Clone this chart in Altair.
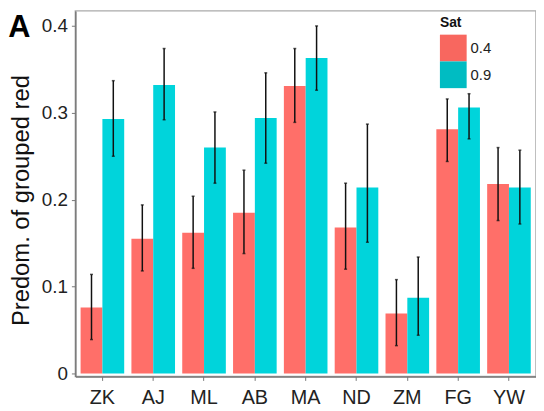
import altair as alt
import pandas as pd

cats = ["ZK", "AJ", "ML", "AB", "MA", "ND", "ZM", "FG", "YW"]
sat_levels = ["0.4", "0.9"]
mean_04 = [0.076, 0.155, 0.162, 0.185, 0.331, 0.168, 0.069, 0.281, 0.218]
lo_04 = [0.039, 0.118, 0.121, 0.138, 0.289, 0.120, 0.032, 0.244, 0.176]
hi_04 = [0.114, 0.194, 0.204, 0.234, 0.374, 0.219, 0.108, 0.316, 0.260]
mean_09 = [0.293, 0.332, 0.260, 0.294, 0.363, 0.214, 0.087, 0.306, 0.214]
lo_09 = [0.250, 0.292, 0.219, 0.242, 0.326, 0.151, 0.044, 0.270, 0.172]
hi_09 = [0.337, 0.374, 0.301, 0.346, 0.400, 0.287, 0.134, 0.322, 0.257]
y_ticks = [0, 0.1, 0.2, 0.3, 0.4]

rows = []
for i, c in enumerate(cats):
    rows.append({"cat": c, "Sat": "0.4", "m": mean_04[i], "lo": lo_04[i], "hi": hi_04[i]})
    rows.append({"cat": c, "Sat": "0.9", "m": mean_09[i], "lo": lo_09[i], "hi": hi_09[i]})
df = pd.DataFrame(rows)

FONT = "Liberation Sans"
bar_colors = ["#FF6F69", "#00D4DB"]
legend_colors = ["#F8675F", "#00BCC2"]

x_enc = alt.X("cat:N", sort=cats,
              scale=alt.Scale(paddingInner=0.142, paddingOuter=0.103),
              axis=alt.Axis(title=None, labelAngle=0, labelFontSize=20, labelFont=FONT,
                            labelColor="#222222", tickSize=4, tickColor="#777777",
                            domainColor="#777777", domainWidth=1.5, labelPadding=7))
xo_enc = alt.XOffset("Sat:N", sort=sat_levels, scale=alt.Scale(paddingInner=0, paddingOuter=0))
y_scale = alt.Scale(domain=[-0.00342, 0.41733], nice=False, zero=False)
y_axis = alt.Axis(values=y_ticks, grid=False, labelFontSize=19, labelFont=FONT,
                  labelColor="#222222", tickSize=4, tickColor="#777777",
                  domainColor="#777777", domainWidth=1.5, labelPadding=4,
                  labelExpr="datum.value == 0 ? '0' : format(datum.value, '.1f')",
                  title="Predom. of grouped red", titleFont=FONT, titleFontSize=24,
                  titleFontWeight="normal", titleColor="#111111",
                  titleX=-42, titleY=191)

base = alt.Chart(df)

bars = base.mark_bar().encode(
    x=x_enc, xOffset=xo_enc,
    y=alt.Y("m:Q", scale=y_scale, axis=y_axis),
    color=alt.Color("Sat:N", sort=sat_levels,
                    scale=alt.Scale(domain=sat_levels, range=bar_colors), legend=None),
)

legend_layer = base.mark_square(opacity=0).encode(
    x=alt.X("cat:N", sort=cats), xOffset=xo_enc,
    y=alt.Y("m:Q"),
    fill=alt.Fill("Sat:N", sort=sat_levels,
                  scale=alt.Scale(domain=sat_levels, range=legend_colors),
                  legend=alt.Legend(title="Sat", orient="none", legendX=368, legendY=5,
                                    titleFont=FONT, titleFontSize=14, titleFontWeight="bold",
                                    titleColor="#111111", titlePadding=5,
                                    labelFont=FONT, labelFontSize=15, labelColor="#222222",
                                    labelOffset=4, symbolType="square", symbolSize=729,
                                    symbolOpacity=1, symbolStrokeWidth=0, rowPadding=0)),
)

rules = base.mark_rule(color="#111111", strokeWidth=1.5).encode(
    x=alt.X("cat:N", sort=cats), xOffset=xo_enc,
    y=alt.Y("lo:Q"), y2="hi:Q",
)
caps_lo = base.mark_tick(color="#111111", size=3, thickness=1.5).encode(
    x=alt.X("cat:N", sort=cats), xOffset=xo_enc, y=alt.Y("lo:Q"))
caps_hi = base.mark_tick(color="#111111", size=3, thickness=1.5).encode(
    x=alt.X("cat:N", sort=cats), xOffset=xo_enc, y=alt.Y("hi:Q"))

label_a = alt.Chart(pd.DataFrame({"t": ["A"]})).mark_text(
    font=FONT, fontSize=31, fontWeight="bold", color="#000000",
    align="center", baseline="alphabetic").encode(
    text="t:N", x=alt.value(-56.5), y=alt.value(26))

chart = alt.layer(bars, legend_layer, rules, caps_lo, caps_hi, label_a).resolve_scale(
    color="independent", fill="independent"
).properties(
    width=465, height=369,
    autosize=alt.AutoSizeParams(type="none"),
    padding={"left": 68, "top": 1, "right": 0, "bottom": 33},
).configure_view(stroke="#AAAAAA", strokeWidth=1.5)

chart.save("out.html", embed_options={"renderer": "svg", "actions": False})
